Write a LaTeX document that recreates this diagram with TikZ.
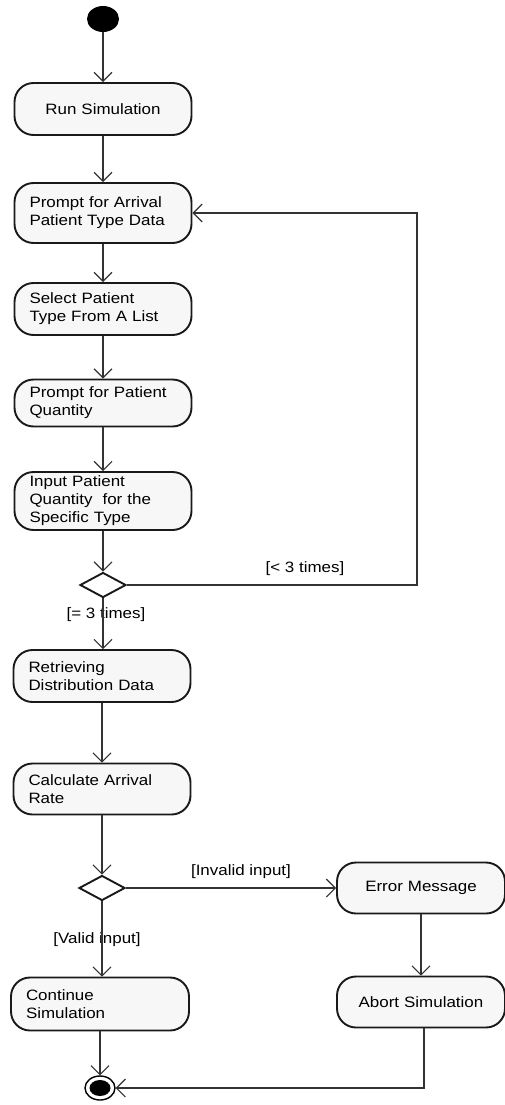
\documentclass[tikz,border=0pt]{standalone}
\usepackage{fontspec}
\setmainfont{Liberation Sans}[FakeStretch=1.13]
\usetikzlibrary{arrows.meta,shapes.geometric}
\begin{document}
\begin{tikzpicture}[x=1pt,y=-1pt,
  every node/.style={font=\fontsize{15}{18}\selectfont},
  act/.style={draw=black!90,line width=1.9pt,fill=gray!6,rounded corners=19pt,
    inner xsep=15pt,inner ysep=2pt,text width=147pt,align=left},
  actc/.style={act,align=center},
  dec/.style={diamond,draw=black!90,line width=1.9pt,fill=white,minimum width=46pt,minimum height=25pt,inner sep=0pt,aspect=1.8},
  flow/.style={draw=black!80,line width=1.1pt,-{Straight Barb[length=9pt,width=18pt,line width=1.1pt]}},
  guard/.style={inner sep=0pt}]
\useasboundingbox (0,0) rectangle (505,1105);
% nodes
\node[ellipse,fill=black,minimum width=32pt,minimum height=26pt,inner sep=0pt] (start) at (103,19) {};
\node[actc,minimum height=52pt] (run) at (103,109) {Run Simulation};
\node[act,minimum height=60pt] (prompt) at (103,213) {Prompt for Arrival\\Patient Type Data};
\node[act,minimum height=52pt] (select) at (103,309) {Select Patient\\Type From A List};
\node[act,minimum height=47pt] (pq) at (103,403) {Prompt for Patient\\Quantity};
\node[act,minimum height=58pt] (input) at (103,501) {Input Patient\\Quantity~ for the\\Specific Type};
\node[dec] (d1) at (103,585) {};
\node[act,minimum height=52pt] (retr) at (102,676) {Retrieving\\Distribution Data};
\node[act,minimum height=51pt] (calc) at (102,789) {Calculate Arrival\\Rate};
\node[dec] (d2) at (102,888) {};
\node[actc,minimum height=51pt,text width=138pt] (err) at (421,888) {Error Message};
\node[actc,minimum height=51pt,text width=138pt] (abort) at (421,1002) {Abort Simulation};
\node[act,minimum height=53pt,text width=148pt] (cont) at (100,1004) {Continue\\Simulation};
\node[ellipse,draw=black,line width=1.4pt,fill=white,minimum width=30pt,minimum height=24pt,inner sep=0pt] (end) at (100,1088) {};
\node[ellipse,fill=black,minimum width=21pt,minimum height=16pt,inner sep=0pt] (endin) at (100,1088) {};
% guards
\node[guard] (g1) at (305,569) {[< 3 times]};
\node[guard] (g2) at (106,615) {[= 3 times]};
\node[guard] (g3) at (241,872) {[Invalid input]};
\node[guard] (g4) at (97,940) {[Valid input]};
% corners
\coordinate (lc) at (417,585);
\coordinate (ec) at (424,1088);
% connectors
\draw[flow] (start) -- (run);
\draw[flow] (run) -- (prompt);
\draw[flow] (prompt) -- (select);
\draw[flow] (select) -- (pq);
\draw[flow] (pq) -- (input);
\draw[flow] (input) -- (d1);
\draw[flow] (d1.east) -- (lc) |- (prompt.east);
\draw[flow] (d1.south) -- (d1.south |- retr.north);
\draw[flow] (retr) -- (calc);
\draw[flow] (calc) -- (d2);
\draw[flow] (d2.east) -- (err.west);
\draw[flow] (d2.south) -- (d2.south |- cont.north);
\draw[flow] (err) -- (abort);
\draw[flow] (cont) -- (end);
\draw[flow] (abort.south -| ec) -- (ec) -- (end.east);
\end{tikzpicture}
\end{document}
